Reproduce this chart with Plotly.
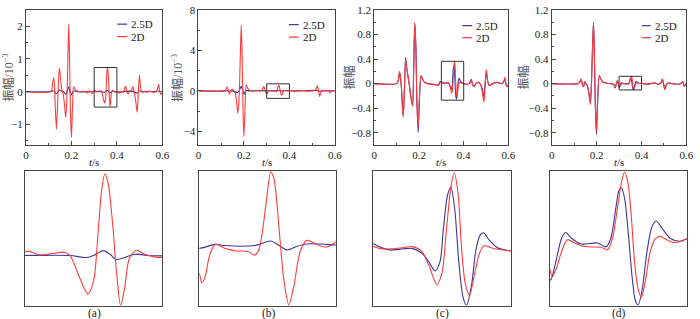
import plotly.graph_objects as go

# ---------------- data ----------------
# panel (a): amplitudes in 1e-3
t_a_2d = [0, 0.105, 0.113, 0.118, 0.123, 0.128, 0.134, 0.14, 0.147, 0.153, 0.158, 0.163, 0.168, 0.175,
          0.18, 0.184, 0.188, 0.192, 0.196, 0.2, 0.205, 0.21, 0.216, 0.224, 0.24, 0.26, 0.272, 0.278,
          0.285, 0.291, 0.297,
          0.3, 0.303, 0.3105, 0.32, 0.3284, 0.333, 0.339, 0.3458, 0.35, 0.3535, 0.3559, 0.3582, 0.3606,
          0.3642, 0.3666, 0.3697, 0.3726, 0.3761, 0.381, 0.3869, 0.394, 0.4,
          0.405, 0.412, 0.418, 0.424, 0.432, 0.438, 0.444, 0.45, 0.456, 0.463, 0.47, 0.476, 0.483, 0.489,
          0.494, 0.499, 0.505, 0.512, 0.52, 0.53, 0.545, 0.56, 0.572, 0.578, 0.583, 0.588, 0.593, 0.597, 0.6]
v_a_2d = [0, 0, 0.05, 0.3, 0.42, -0.3, -1.15, -0.2, 0.73, 0.35, 0.05, -0.05, -0.3, -0.78,
          -0.2, 0.9, 2.07, 0.9, -0.7, -1.4, -0.4, 0.15, 0.08, 0.02, 0, 0.01, -0.04, 0.03,
          0, -0.06, 0.02,
          0.03, 0.04, 0.006, 0.018, 0.03, 0, -0.17, -0.345, -0.23, 0.24, 0.59, 0.736, 0.65,
          0.24, -0.14, -0.45, -0.29, -0.02, 0.047, 0.012, -0.012, -0.018,
          -0.01, -0.05, 0.02, -0.03, 0.05, 0.17, -0.02, -0.06, 0.0, 0.05, 0.15, 0.0, -0.3, -0.63,
          -0.05, 0.5, 0.1, -0.03, 0.02, -0.02, 0.02, -0.02, 0.0, 0.08, 0.22, 0.02, -0.08, -0.05, -0.1]
t_a_25d = [0, 0.105, 0.118, 0.123, 0.134, 0.147, 0.155, 0.165, 0.175, 0.182, 0.188, 0.194, 0.2, 0.206,
           0.212, 0.225, 0.3,
           0.333, 0.345, 0.3509, 0.357, 0.362, 0.3666, 0.3726, 0.38, 0.39, 0.4,
           0.43, 0.438, 0.47, 0.489, 0.499, 0.51, 0.583, 0.6]
v_a_25d = [0, 0, 0.02, 0.03, -0.07, 0.06, 0.02, 0.0, -0.08, 0.03, 0.15, 0.0, -0.1, -0.02,
           0.02, 0.0, 0.0,
           0.0, -0.018, 0.006, 0.044, 0.012, -0.038, -0.018, 0.012, 0.0, -0.003,
           0.0, 0.01, 0.01, -0.04, 0.03, 0.0, 0.015, 0.0]

# panel (b): amplitudes in 1e-3
t_b_2d = [0, 0.115, 0.121, 0.127, 0.132, 0.137, 0.142, 0.147, 0.155, 0.162, 0.168, 0.173, 0.178, 0.183,
          0.188, 0.192, 0.196, 0.2, 0.205, 0.21, 0.216, 0.224, 0.24, 0.26, 0.275, 0.282, 0.288, 0.293, 0.297,
          0.3, 0.3019, 0.3043, 0.3079, 0.312, 0.3188, 0.326, 0.3356, 0.3404, 0.3428, 0.3452, 0.3488, 0.3524,
          0.3548, 0.3584, 0.362, 0.3656, 0.3692, 0.374, 0.3788, 0.3837, 0.3885, 0.3933, 0.3969, 0.4,
          0.41, 0.425, 0.44, 0.46, 0.48, 0.5, 0.512, 0.518, 0.523, 0.528, 0.533, 0.539, 0.545, 0.56,
          0.572, 0.578, 0.585, 0.6]
v_b_2d = [0, 0, 0.15, 0.41, 0.0, -0.3, 0.0, 0.15, 0.05, -0.2, -1.2, -2.2, -1.0, 2.5,
          6.5, 3.5, -2.0, -4.5, -1.5, 0.58, 0.3, 0.05, 0.0, 0.02, 0.0, 0.2, 0.46, 0.0, -0.2,
          -0.196, -0.263, -0.22, -0.053, 0.019, -0.01, -0.029, -0.033, -0.06, -0.04, 0.043, 0.306, 0.55,
          0.497, 0.139, -0.244, -0.425, -0.29, -0.029, 0.048, 0.031, 0.007, 0.0, 0.014, 0.036,
          0.02, -0.02, 0.0, 0.02, -0.02, 0.0, 0.05, 0.2, 0.5, 0.0, -0.55, -0.1, 0.05, 0.0,
          0.05, -0.2, 0.0, 0.02]
t_b_25d = [0, 0.115, 0.127, 0.137, 0.15, 0.173, 0.181, 0.188, 0.194, 0.2, 0.206, 0.212, 0.225, 0.288,
           0.3, 0.3115, 0.3188, 0.3404, 0.3524, 0.3572, 0.3644, 0.3716, 0.3788, 0.4,
           0.42, 0.523, 0.533, 0.545, 0.6]
v_b_25d = [0, 0, 0.03, -0.03, 0.0, -0.15, 0.1, 0.45, 0.1, -0.3, -0.05, 0.04, 0.0, 0.03,
           -0.01, 0.019, 0.01, 0.01, 0.043, 0.019, -0.022, 0.005, 0.022, 0.014,
           0.0, 0.04, -0.04, 0.0, 0.0]

# panel (c): amplitudes
t_c_2d = [0, 0.1, 0.107, 0.113, 0.12, 0.129, 0.134, 0.14, 0.145, 0.15, 0.156, 0.163, 0.171, 0.176,
          0.181, 0.186, 0.19, 0.196, 0.201, 0.209, 0.215, 0.225, 0.24, 0.26, 0.28, 0.287, 0.293,
          0.3, 0.3043, 0.3115, 0.3211, 0.3282, 0.3354, 0.3402, 0.3462, 0.3498, 0.3533, 0.3565, 0.3589,
          0.3617, 0.3641, 0.367, 0.3701, 0.3737, 0.3773, 0.3809, 0.3856, 0.3928, 0.4,
          0.41, 0.425, 0.434, 0.44, 0.447, 0.455, 0.468, 0.476, 0.484, 0.491, 0.496, 0.501, 0.507,
          0.515, 0.53, 0.55, 0.57, 0.579, 0.584, 0.59, 0.595, 0.6]
v_c_2d = [0, 0, 0.05, 0.2, 0.0, -0.55, -0.2, 0.4, 0.25, 0.15, 0.0, -0.2, -0.37, 0.2,
          1.0, 0.6, -0.2, -0.72, -0.3, 0.12, 0.08, 0.02, 0.0, -0.01, -0.02, -0.03, 0.02,
          0.02, 0.012, 0.009, 0.015, 0.02, -0.003, -0.064, -0.158, -0.109, 0.103, 0.30, 0.365,
          0.27, 0.027, -0.155, -0.208, -0.109, -0.011, 0.024, 0.015, 0.005, 0.0,
          -0.01, 0.0, 0.06, -0.02, -0.05, 0.0, 0.02, -0.02, -0.15, -0.3, 0.0, 0.23, 0.05,
          -0.03, 0.0, 0.02, 0.0, 0.03, 0.1, -0.02, -0.05, -0.03]
t_c_25d = [0, 0.1, 0.107, 0.113, 0.12, 0.129, 0.134, 0.14, 0.145, 0.15, 0.156, 0.163, 0.171, 0.176,
           0.181, 0.186, 0.19, 0.196, 0.201, 0.209, 0.215, 0.225, 0.24, 0.26, 0.28, 0.287, 0.293,
           0.3, 0.3043, 0.3115, 0.3211, 0.3282, 0.3354, 0.3402, 0.345, 0.3486, 0.351, 0.3541, 0.3565,
           0.3593, 0.3622, 0.3653, 0.3679, 0.3713, 0.3749, 0.378, 0.3804, 0.3844, 0.3904, 0.4,
           0.41, 0.425, 0.434, 0.44, 0.447, 0.455, 0.468, 0.476, 0.484, 0.491, 0.496, 0.501, 0.507,
           0.515, 0.53, 0.55, 0.57, 0.579, 0.584, 0.59, 0.595, 0.6]
v_c_25d = [0, 0, 0.05, 0.18, 0.0, -0.52, -0.15, 0.43, 0.25, 0.13, 0.0, -0.2, -0.35, 0.2,
           0.98, 0.6, -0.2, -0.8, -0.35, 0.13, 0.08, 0.02, 0.0, -0.01, -0.02, -0.03, 0.03,
           0.033, 0.02, 0.005, 0.009, 0.012, -0.011, -0.049, -0.094, -0.049, 0.103, 0.263, 0.298,
           0.195, -0.049, -0.216, -0.255, -0.17, 0.012, 0.076, 0.085, 0.05, 0.015, 0.0,
           -0.01, 0.0, 0.07, -0.02, -0.04, 0.0, 0.02, -0.02, -0.1, -0.22, 0.0, 0.18, 0.05,
           -0.03, 0.0, 0.02, 0.0, 0.03, 0.08, -0.02, -0.04, -0.02]

# panel (d): amplitudes
t_d_2d = [0, 0.115, 0.124, 0.131, 0.137, 0.142, 0.147, 0.152, 0.158, 0.165, 0.172, 0.177, 0.181, 0.186,
          0.19, 0.194, 0.199, 0.204, 0.212, 0.218, 0.226, 0.24, 0.26, 0.275, 0.283, 0.288, 0.293, 0.297,
          0.3, 0.3019, 0.305, 0.3086, 0.3129, 0.3182, 0.323, 0.3301, 0.3373, 0.3421, 0.3457, 0.3493,
          0.3522, 0.3545, 0.3569, 0.3593, 0.3617, 0.3641, 0.3667, 0.3696, 0.3732, 0.3768, 0.3804,
          0.3852, 0.39, 0.3959, 0.4,
          0.41, 0.42, 0.44, 0.46, 0.475, 0.483, 0.488, 0.493, 0.498, 0.504, 0.51, 0.518, 0.535,
          0.56, 0.575, 0.584, 0.59, 0.595, 0.6]
v_d_2d = [0, 0, 0.02, 0.08, -0.02, -0.05, 0.03, 0.0, -0.03, -0.15, -0.34, 0.0, 0.5, 1.0,
          0.5, -0.3, -0.78, -0.3, 0.12, 0.08, 0.03, 0.01, 0.0, -0.01, -0.06, 0.0, 0.06, -0.01,
          -0.044, -0.056, -0.041, -0.014, 0.0055, 0.0, -0.0044, -0.0066, -0.007, -0.011, 0.008, 0.058,
          0.101, 0.118, 0.101, 0.047, -0.03, -0.074, -0.09, -0.063, -0.014, 0.007, 0.011,
          0.0055, 0.001, 0.003, 0.0066,
          0.0, -0.01, 0.0, 0.01, -0.01, 0.0, 0.03, 0.08, 0.0, -0.1, -0.02, 0.01, 0.0,
          -0.01, 0.0, 0.03, -0.04, -0.02, 0.01]
t_d_25d = [0, 0.115, 0.124, 0.131, 0.137, 0.142, 0.147, 0.152, 0.158, 0.165, 0.172, 0.177, 0.181, 0.186,
           0.19, 0.194, 0.199, 0.204, 0.212, 0.218, 0.226, 0.24, 0.26, 0.275, 0.283, 0.288, 0.293, 0.2975,
           0.3005, 0.3019, 0.305, 0.3086, 0.3115, 0.3158, 0.323, 0.3349, 0.3409, 0.3445, 0.3481, 0.3505,
           0.3522, 0.3545, 0.3577, 0.36, 0.3624, 0.3644, 0.3672, 0.3708, 0.3744, 0.3775, 0.3816,
           0.3876, 0.3947, 0.4,
           0.41, 0.42, 0.44, 0.46, 0.475, 0.483, 0.488, 0.493, 0.498, 0.504, 0.51, 0.518, 0.535,
           0.56, 0.575, 0.584, 0.59, 0.595, 0.6]
v_d_25d = [0, 0, 0.02, 0.07, -0.02, -0.05, 0.03, 0.0, -0.03, -0.14, -0.3, 0.0, 0.5, 1.0,
           0.45, -0.35, -0.83, -0.35, 0.13, 0.08, 0.03, 0.01, 0.0, -0.01, -0.07, 0.0, 0.05, -0.02,
           -0.062, -0.055, -0.025, 0.008, 0.0175, 0.008, -0.0016, 0.0, -0.0066, 0.008, 0.058, 0.088,
           0.0915, 0.074, 0.0027, -0.0575, -0.096, -0.103, -0.079, -0.014, 0.027, 0.0367, 0.025,
           0.008, 0.003, 0.0066,
           0.0, -0.01, 0.0, 0.01, -0.01, 0.0, 0.02, 0.07, 0.0, -0.09, -0.02, 0.01, 0.0,
           -0.01, 0.0, 0.03, -0.04, -0.02, 0.01]

series_names = ["2.5D", "2D"]
panel_labels = ["(a)", "(b)", "(c)", "(d)"]
y_titles = ["振幅/10<sup>−3</sup>", "振幅/10<sup>−3</sup>", "振幅", "振幅"]
x_title = "<i>t</i>/s"
top_y_ranges = [[-1.63, 2.5], [-5.35, 8.001], [-1.0, 1.2001], [-1.0, 1.2001]]
top_y_dticks = [1, 4, 0.4, 0.4]
zoom_t = [0.3, 0.4]
zoom_box_y = [[-0.47, 0.74], [-0.74, 0.70], [-0.27, 0.363], [-0.103, 0.119]]
bot_y_ranges = [[-0.45, 0.762], [-0.43, 0.558], [-0.256, 0.375], [-0.104, 0.12]]

# ---------------- styling / layout ----------------
W, H = 700, 319
RED = "#ff3b3b"
BLUE = "#3b3699"
FRAME = "#454545"
SERIF = "Liberation Serif, Times New Roman, serif"
CJK = "Liberation Serif, Noto Sans CJK SC, serif"

def px_x(p):
    return p / W

def px_y(p):
    return 1 - p / H

top_x_px = [(23.3, 161.7), (198.3, 336.7), (376.7, 512.7), (556.7, 693.3)]
bot_x_px = [(22, 161.7), (199, 337.7), (375.7, 515), (554.7, 694)]
top_y_px = (4, 141.7)
bot_y_px = (168, 305.3)
ytitle_x_px = [6, 177, 352, 528.5]
legend_px = [(116, 126, 128), (290, 300, 302), (466, 476, 478), (648, 657, 659.5)]
legend_y_px = [(18.5, 31.2), (19, 31.7), (20, 32.3), (20, 32.3)]

panels = [
    (t_a_2d, v_a_2d, t_a_25d, v_a_25d),
    (t_b_2d, v_b_2d, t_b_25d, v_b_25d),
    (t_c_2d, v_c_2d, t_c_25d, v_c_25d),
    (t_d_2d, v_d_2d, t_d_25d, v_d_25d),
]

fig = go.Figure()
layout = dict(width=W, height=H, margin=dict(l=0, r=0, t=0, b=0),
              paper_bgcolor="white", plot_bgcolor="white", showlegend=False)
shapes = []
annotations = []

def ax_name(k):
    return "" if k == 1 else str(k)

for i, (t2, v2, t25, v25) in enumerate(panels):
    for k, is_top in ((i + 1, True), (i + 5, False)):
        n = ax_name(k)
        fig.add_trace(go.Scatter(x=t25, y=v25, mode="lines", name=series_names[0],
                                 line=dict(color=BLUE, width=1.1, shape="spline", smoothing=0.8),
                                 xaxis="x" + n, yaxis="y" + n, hoverinfo="skip"))
        fig.add_trace(go.Scatter(x=t2, y=v2, mode="lines", name=series_names[1],
                                 line=dict(color=RED, width=1.1, shape="spline", smoothing=0.8),
                                 xaxis="x" + n, yaxis="y" + n, hoverinfo="skip"))
        if is_top:
            xd = [px_x(top_x_px[i][0]), px_x(top_x_px[i][1])]
            yd = [px_y(top_y_px[1]), px_y(top_y_px[0])]
            layout["xaxis" + n] = dict(
                domain=xd, anchor="y" + n, range=[0, 0.6], tick0=0, dtick=0.2,
                showline=True, mirror=True, linecolor=FRAME, linewidth=1,
                ticks="inside", ticklen=4, tickcolor=FRAME, tickwidth=1,
                minor=dict(ticks="inside", ticklen=2, dtick=0.1, tickcolor=FRAME),
                showgrid=False, zeroline=False, ticklabeloverflow="allow",
                tickfont=dict(family=SERIF, size=11, color="#222"))
            dt = top_y_dticks[i]
            layout["yaxis" + n] = dict(
                domain=yd, anchor="x" + n, range=top_y_ranges[i], tick0=0, dtick=dt,
                showline=True, mirror=True, linecolor=FRAME, linewidth=1,
                ticks="inside", ticklen=4, tickcolor=FRAME, tickwidth=1,
                minor=dict(ticks="inside", ticklen=2, dtick=dt / 2, tickcolor=FRAME),
                showgrid=False, zeroline=False, ticklabeloverflow="allow",
                tickfont=dict(family=SERIF, size=11, color="#222"))
            shapes.append(dict(type="rect", xref="x" + n, yref="y" + n,
                               x0=zoom_t[0], x1=zoom_t[1],
                               y0=zoom_box_y[i][0], y1=zoom_box_y[i][1],
                               line=dict(color="#333", width=1)))
        else:
            xd = [px_x(bot_x_px[i][0]), px_x(bot_x_px[i][1])]
            yd = [px_y(bot_y_px[1]), px_y(bot_y_px[0])]
            common = dict(showline=True, mirror=True, linecolor=FRAME, linewidth=1.3,
                          ticks="", showticklabels=False, showgrid=False, zeroline=False)
            layout["xaxis" + n] = dict(domain=xd, anchor="y" + n, range=zoom_t, **common)
            layout["yaxis" + n] = dict(domain=yd, anchor="x" + n, range=bot_y_ranges[i], **common)

    # y-axis title
    annotations.append(dict(text=y_titles[i], xref="paper", yref="paper",
                            x=px_x(ytitle_x_px[i]), y=px_y(73), textangle=-90,
                            xanchor="center", yanchor="middle", showarrow=False,
                            font=dict(family=CJK, size=12, color="#555")))
    # x-axis title
    cx = (top_x_px[i][0] + top_x_px[i][1]) / 2
    annotations.append(dict(text=x_title, xref="paper", yref="paper",
                            x=px_x(cx), y=px_y(159), xanchor="center", yanchor="middle",
                            showarrow=False, font=dict(family=SERIF, size=11, color="#222")))
    # panel label
    bx = (bot_x_px[i][0] + bot_x_px[i][1]) / 2
    annotations.append(dict(text=panel_labels[i], xref="paper", yref="paper",
                            x=px_x(bx + 1), y=px_y(313.5), xanchor="center", yanchor="middle",
                            showarrow=False, font=dict(family=SERIF, size=11.5, color="#222")))
    # legend (line samples + text)
    lx0, lx1, tx = legend_px[i]
    for name, color, ly in ((series_names[0], BLUE, legend_y_px[i][0]),
                            (series_names[1], RED, legend_y_px[i][1])):
        shapes.append(dict(type="line", xref="paper", yref="paper",
                           x0=px_x(lx0), x1=px_x(lx1), y0=px_y(ly), y1=px_y(ly),
                           line=dict(color=color, width=1.2)))
        annotations.append(dict(text=name, xref="paper", yref="paper",
                                x=px_x(tx), y=px_y(ly), xanchor="left", yanchor="middle",
                                showarrow=False, font=dict(family=SERIF, size=11, color="#222")))

layout["shapes"] = shapes
layout["annotations"] = annotations
fig.update_layout(**layout)
fig.write_html("out.html", config={"displayModeBar": False},
               post_script="document.body.style.margin='0';document.body.style.overflow='hidden';")
